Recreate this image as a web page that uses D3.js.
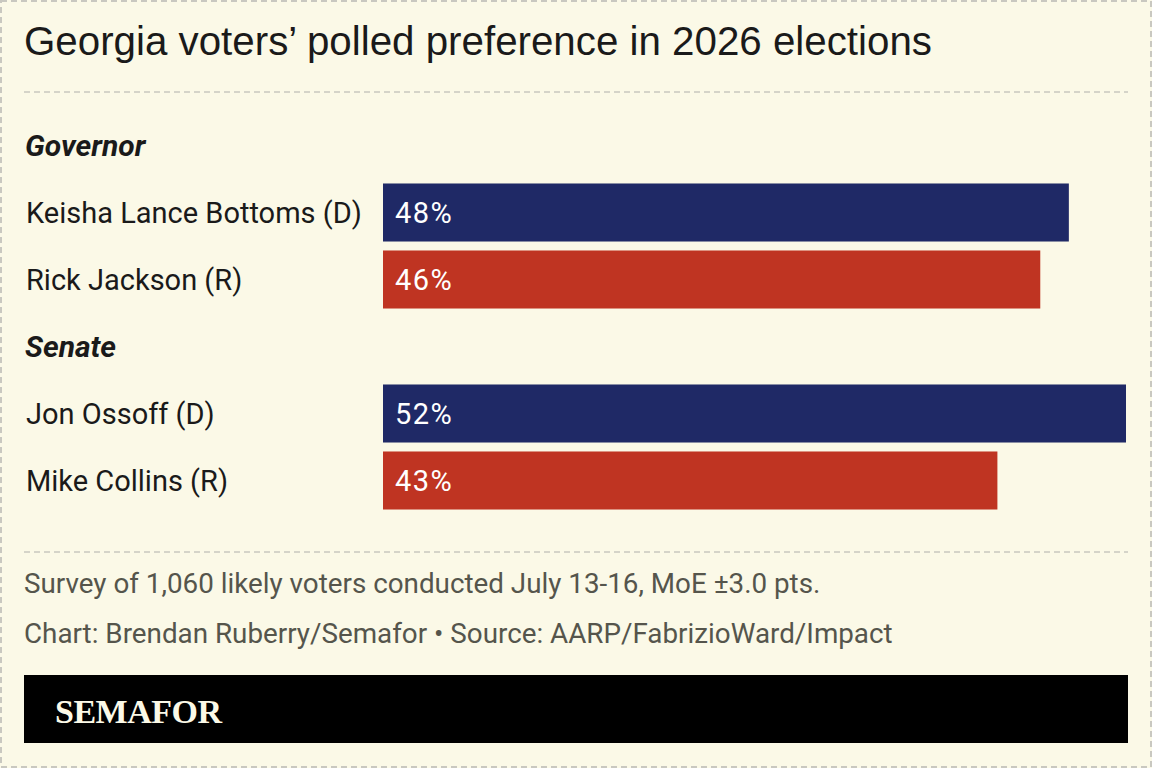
<!DOCTYPE html>
<html>
<head>
<meta charset="utf-8">
<script src="https://cdn.jsdelivr.net/npm/d3@7"></script>
<style>
  html, body { margin: 0; padding: 0; background: #fbf9e7; }
  svg { display: block; }
</style>
</head>
<body>
<div id="chart"></div>
<script>
// Chart data
const title = "Georgia voters\u2019 polled preference in 2026 elections";
const groups = ["Governor", "Senate"];
const candidates = ["Keisha Lance Bottoms (D)", "Rick Jackson (R)", "Jon Ossoff (D)", "Mike Collins (R)"];
const candidateGroup = ["Governor", "Governor", "Senate", "Senate"];
const parties = ["D", "R", "D", "R"];
const shares = [48, 46, 52, 43];
const notes = [
    "Survey of 1,060 likely voters conducted July 13-16, MoE \u00b13.0 pts.",
    "Chart: Brendan Ruberry/Semafor \u2022 Source: AARP/FabrizioWard/Impact"
];

const W = 1152, H = 768;
const bg = "#fbf9e7";
const partyColor = d3.scaleOrdinal().domain(["D", "R"]).range(["#1f2966", "#bf3422"]);
const labelFont = "Roboto, 'Noto Sans', sans-serif";

const svg = d3.select("#chart").append("svg")
    .attr("width", W)
    .attr("height", H);

svg.append("rect").attr("width", W).attr("height", H).attr("fill", bg);

// outer dashed frame
svg.append("rect")
    .attr("x", 1).attr("y", 1)
    .attr("width", W - 2).attr("height", H - 2)
    .attr("fill", "none")
    .attr("stroke", "#c9c8c0")
    .attr("stroke-width", 2)
    .attr("stroke-dasharray", "6,4");

// Title
svg.append("text")
    .attr("x", 24).attr("y", 55)
    .style("font-family", "'Liberation Sans', Arial, sans-serif")
    .style("font-size", "40.3px")
    .attr("fill", "#1a1a1a")
    .text(title);

function dashedRule(y) {
    svg.append("line")
        .attr("x1", 24).attr("x2", 1128)
        .attr("y1", y).attr("y2", y)
        .attr("stroke", "#c9c8c0")
        .attr("stroke-width", 1.5)
        .attr("stroke-dasharray", "6,4");
}
dashedRule(92);
dashedRule(552);

// rows: group header then its candidates
const rows = [];
groups.forEach(g => {
    rows.push({ key: "h-" + g, type: "header", label: g });
    candidates.forEach((c, i) => {
        if (candidateGroup[i] === g) rows.push({ key: c, type: "bar", label: c, party: parties[i], value: shares[i] });
    });
});

const y = d3.scaleBand()
    .domain(rows.map(d => d.key))
    .range([112, 514])
    .paddingInner(0.134)
    .paddingOuter(0.067);

const x = d3.scaleLinear()
    .domain([0, d3.max(shares)])
    .range([383, 1126]);

const headerRows = rows.filter(d => d.type === "header");
const barRows = rows.filter(d => d.type === "bar");

svg.selectAll(".group-head")
    .data(headerRows)
    .join("text")
    .attr("class", "group-head")
    .attr("x", 25)
    .attr("y", d => y(d.key) + y.bandwidth() / 2)
    .attr("dy", "0.35em")
    .style("font-family", labelFont)
    .style("font-size", "30px")
    .style("font-weight", "bold")
    .style("font-style", "italic")
    .attr("fill", "#1a1a1a")
    .text(d => d.label);

svg.selectAll(".cand-label")
    .data(barRows)
    .join("text")
    .attr("class", "cand-label")
    .attr("x", 26)
    .attr("y", d => y(d.key) + y.bandwidth() / 2)
    .attr("dy", "0.36em")
    .style("font-family", labelFont)
    .style("font-size", "29px")
    .attr("fill", "#1a1a1a")
    .text(d => d.label);

svg.selectAll(".bar")
    .data(barRows)
    .join("rect")
    .attr("class", "bar")
    .attr("x", x(0))
    .attr("y", d => y(d.key))
    .attr("width", d => x(d.value) - x(0))
    .attr("height", y.bandwidth())
    .attr("fill", d => partyColor(d.party));

svg.selectAll(".bar-value")
    .data(barRows)
    .join("text")
    .attr("class", "bar-value")
    .attr("x", x(0) + 12)
    .attr("y", d => y(d.key) + y.bandwidth() / 2)
    .attr("dy", "0.36em")
    .style("font-family", labelFont)
    .style("font-size", "29px")
    .style("letter-spacing", "1.5px")
    .attr("fill", "#ffffff")
    .text(d => d.value + "%");

// notes
svg.selectAll(".note")
    .data(notes)
    .join("text")
    .attr("class", "note")
    .attr("x", 24)
    .attr("y", (d, i) => 593 + i * 50)
    .style("font-family", labelFont)
    .style("font-size", "27.8px")
    .attr("fill", "#55554c")
    .text(d => d);

// logo bar
svg.append("rect")
    .attr("x", 24).attr("y", 675)
    .attr("width", 1104).attr("height", 68)
    .attr("fill", "#000");
svg.append("text")
    .attr("x", 55).attr("y", 723)
    .style("font-family", "'Liberation Serif', 'DejaVu Serif', serif")
    .style("font-size", "34px")
    .style("font-weight", "bold")
    .style("letter-spacing", "-0.5px")
    .attr("fill", "#fbf9e7")
    .text("SEMAFOR");
</script>
</body>
</html>
